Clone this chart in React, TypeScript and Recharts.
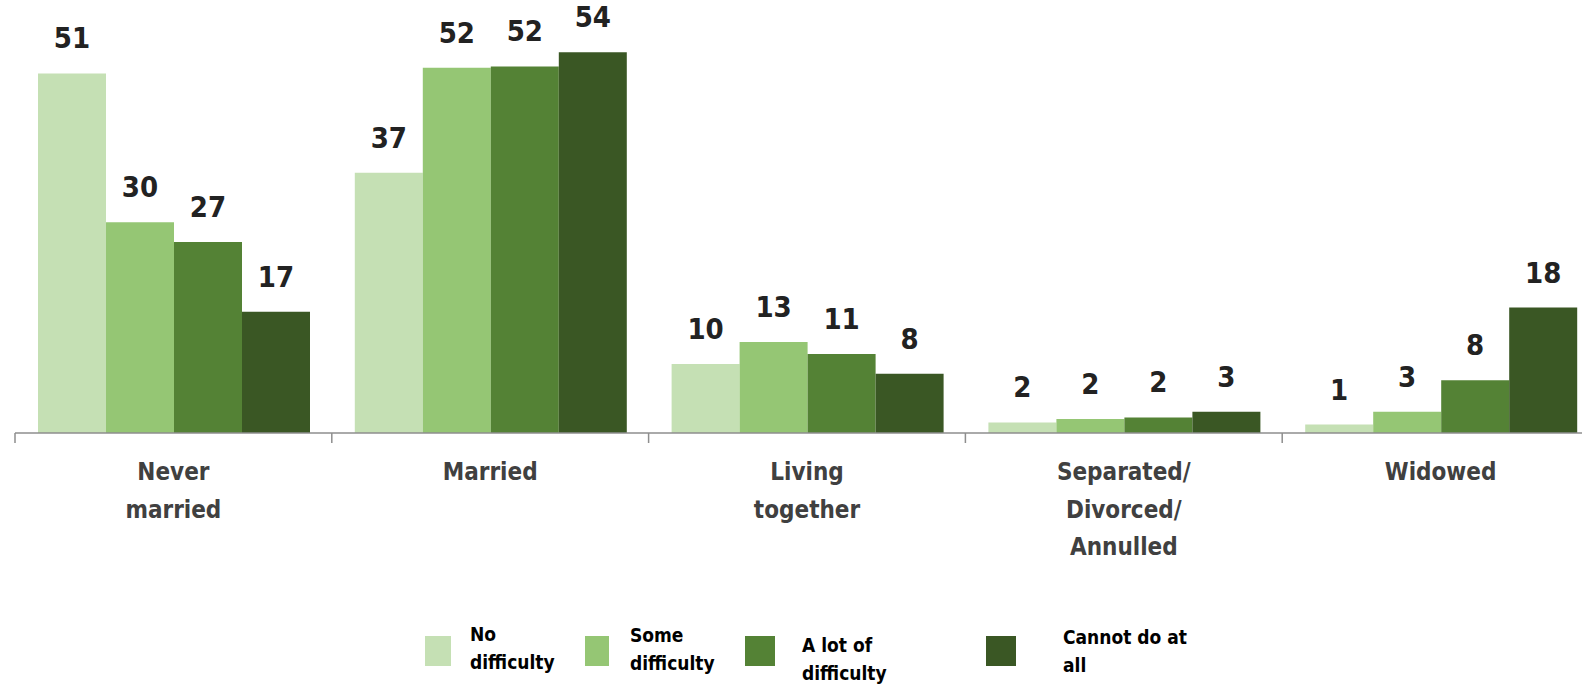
import { BarChart, Bar, XAxis, YAxis, Legend, LabelList } from 'recharts';

const categories = ['Never\nmarried', 'Married', 'Living\ntogether', 'Separated/\nDivorced/\nAnnulled', 'Widowed'];
const noDifficulty = [51.0, 36.9, 9.8, 1.5, 1.2];
const someDifficulty = [29.9, 51.8, 12.9, 2.0, 3.0];
const aLotOfDifficulty = [27.1, 52.0, 11.2, 2.2, 7.5];
const cannotDoAtAll = [17.2, 54.0, 8.4, 3.0, 17.8];

const seriesNames = ['No difficulty', 'Some difficulty', 'A lot of difficulty', 'Cannot do at all'];
const legendLines = [['No', 'difficulty'], ['Some', 'difficulty'], ['A lot of', 'difficulty'], ['Cannot do at', 'all']];
const colors = ['#c5e0b4', '#95c674', '#548235', '#3a5724'];

const data = categories.map((c, i) => ({
  name: c,
  no: noDifficulty[i],
  some: someDifficulty[i],
  lot: aLotOfDifficulty[i],
  cannot: cannotDoAtAll[i],
}));
const keys = ['no', 'some', 'lot', 'cannot'];

const FONT = '"DejaVu Sans Condensed", "DejaVu Sans", sans-serif';
const CHART_W = 1599;
const CHART_H = 685;
const LEFT = 15;
const CAT_W = (CHART_W - LEFT) / categories.length;

const CategoryTick = (props: any) => {
  const { x, y, payload } = props;
  const lines = String(payload.value).split('\n');
  return (
    <g>
      <line x1={x - CAT_W / 2} x2={x - CAT_W / 2} y1={y} y2={y + 10} stroke="#8e8e8e" strokeWidth={1.5} />
      <text x={x} y={y} textAnchor="middle" fill="#404040" fontSize={24} fontWeight="bold" fontFamily={FONT}>
        {lines.map((l, i) => (
          <tspan key={i} x={x} y={y + 47 + i * 37.5}>{l}</tspan>
        ))}
      </text>
    </g>
  );
};

// legend is laid out by hand like the original slide
const swatchX = [425, 585, 745, 986];
const swatchW = [26, 24, 30, 30];
const textX = [470, 630, 802, 1063];
const textY = [641, 642, 652, 644];

const renderLegend = () => (
  <svg width={1} height={1} style={{ position: 'absolute', left: 0, top: 0, overflow: 'visible' }}>
    {seriesNames.map((n, i) => (
      <g key={n}>
        <rect x={swatchX[i]} y={636} width={swatchW[i]} height={30} fill={colors[i]} />
        <text x={textX[i]} y={textY[i]} fill="#000" fontSize={19} fontWeight="bold" fontFamily={FONT}>
          {legendLines[i].map((l, j) => (
            <tspan key={j} x={textX[i]} y={textY[i] + j * 28}>{l}</tspan>
          ))}
        </text>
      </g>
    ))}
  </svg>
);

export default function App() {
  return (
    <div style={{ position: 'absolute', left: 0, top: 0, width: 1582, height: 685, overflow: 'hidden', background: '#fff' }}>
      <BarChart
        width={CHART_W}
        height={CHART_H}
        data={data}
        margin={{ top: 10, right: 0, left: LEFT, bottom: 122 }}
        barCategoryGap={23}
        barGap={0}
      >
        <XAxis
          dataKey="name"
          interval={0}
          height={130}
          tickSize={0}
          tickMargin={0}
          tickLine={false}
          axisLine={{ stroke: '#8e8e8e', strokeWidth: 1.5 }}
          tick={<CategoryTick />}
        />
        <YAxis hide domain={[0, 60]} />
        <Legend content={renderLegend} wrapperStyle={{ left: 0, top: 0, bottom: 'auto', width: 0, height: 0 }} />
        {keys.map((k, i) => (
          <Bar key={k} dataKey={k} name={seriesNames[i]} fill={colors[i]} isAnimationActive={false}>
            <LabelList
              dataKey={k}
              position="top"
              offset={25}
              formatter={(v: any) => Math.round(Number(v))}
              fill="#222"
              fontSize={29}
              fontWeight="bold"
              fontFamily={FONT}
            />
          </Bar>
        ))}
      </BarChart>
    </div>
  );
}
